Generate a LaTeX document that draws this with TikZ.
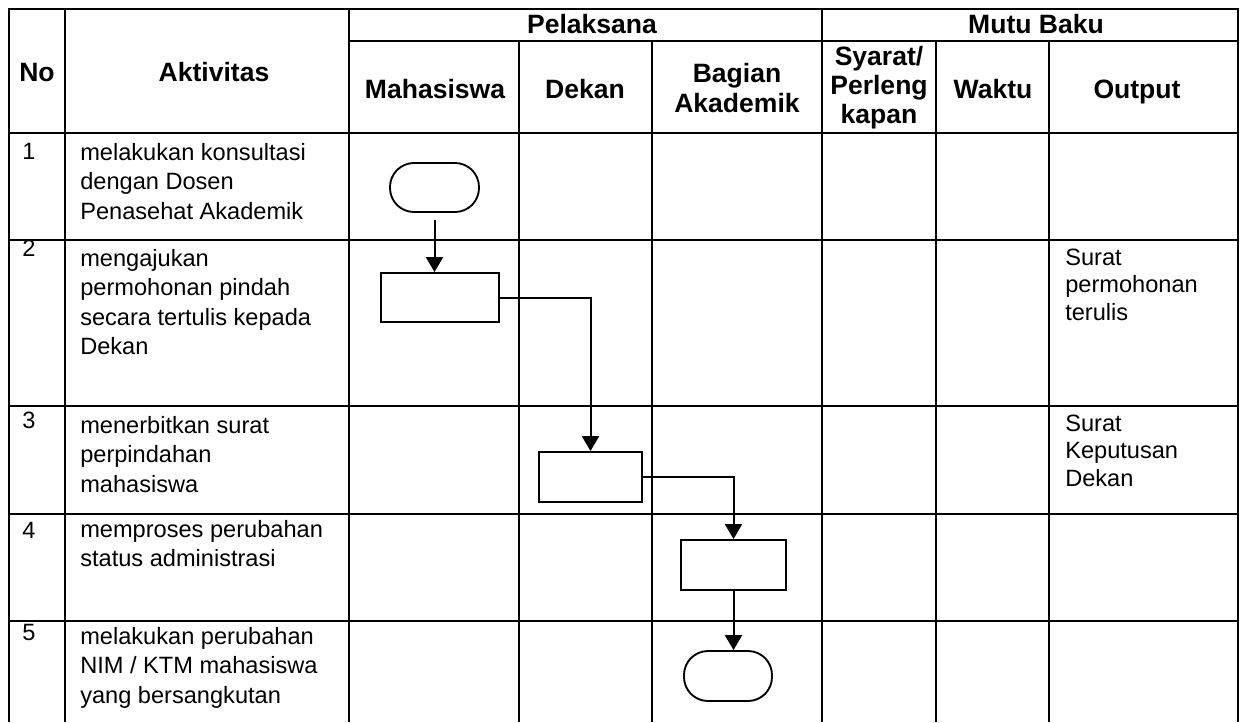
\documentclass[tikz,border=0pt]{standalone}
\usepackage{fontspec}
\setmainfont{Liberation Sans}
\usetikzlibrary{arrows.meta}
\begin{document}
\begin{tikzpicture}[x=0.75pt,y=-0.75pt,
  grid/.style={line width=1.8pt},
  shp/.style={draw, line width=1.4pt, inner sep=0pt},
  proc/.style={shp},
  term/.style={shp, rounded corners=18pt},
  arr/.style={line width=1.5pt, -{Triangle[width=12.75pt,length=11.25pt]}},
  hd/.style={font=\fontsize{19.9}{22.5}\selectfont\bfseries, inner sep=0pt},
  hdml/.style={hd, align=center, anchor=north},
  num/.style={font=\fontsize{17.7}{22.1}\selectfont, inner sep=0pt, anchor=base west},
  bd/.style={font=\fontsize{17.7}{22.1}\selectfont, inner sep=0pt, align=left, anchor=north west},
  outp/.style={font=\fontsize{17.7}{20.6}\selectfont, inner sep=0pt, align=left, anchor=north west}
]
\useasboundingbox (0,0) rectangle (1245,722);

% table grid
\draw[grid] (9,722) -- (9,9) -- (1238,9) -- (1238,722);
\draw[grid] (349,41) -- (1238,41);
\foreach \yy in {133,240,406,514,621} \draw[grid] (9,\yy) -- (1238,\yy);
\foreach \xx in {65,349,822} \draw[grid] (\xx,9) -- (\xx,722);
\foreach \xx in {519,652,936,1049} \draw[grid] (\xx,41) -- (\xx,722);

% header texts
\node[hd, anchor=base] (hNo) at (37,81) {No};
\node[hd, anchor=base] (hAkt) at (214,81) {Aktivitas};
\node[hd, anchor=base] (hPel) at (592,33) {Pelaksana};
\node[hd, anchor=base] (hMutu) at (1036,33) {Mutu Baku};
\node[hd, anchor=base] (hMah) at (435,98) {Mahasiswa};
\node[hd, anchor=base] (hDek) at (585,98) {Dekan};
\node[hdml] (hBag) at (737,61) {\strut Bagian\\Akademik};
\node[hdml, font=\fontsize{19.9}{21.75}\selectfont\bfseries] (hSya) at (879,44.7) {\strut Syarat/\\Perleng\\kapan};
\node[hd, anchor=base] (hWak) at (993,98) {Waktu};
\node[hd, anchor=base] (hOut) at (1137,98) {Output};

% numbers
\node[num] (n1) at (22,159) {1};
\node[num] (n2) at (22,256) {2};
\node[num] (n3) at (22,428) {3};
\node[num] (n4) at (22,538) {4};
\node[num] (n5) at (22,640) {5};

% activities
\node[bd] (a1) at (80,139.4) {\strut melakukan konsultasi\\dengan Dosen\\Penasehat Akademik};
\node[bd] (a2) at (80,245.4) {\strut mengajukan\\permohonan pindah\\secara tertulis kepada\\Dekan};
\node[bd] (a3) at (80,412.4) {\strut menerbitkan surat\\perpindahan\\mahasiswa};
\node[bd] (a4) at (80,516.4) {\strut memproses perubahan\\status administrasi};
\node[bd] (a5) at (80,623.4) {\strut melakukan perubahan\\NIM / KTM mahasiswa\\yang bersangkutan};

% outputs
\node[outp] (o2) at (1065,245.75) {\strut Surat\\permohonan\\terulis};
\node[outp] (o3) at (1065,411.75) {\strut Surat\\Keputusan\\Dekan};

% flow shapes
\node[term, minimum width=66.75pt, minimum height=36.75pt] (T1) at (434.5,187.5) {};
\node[proc, minimum width=88.5pt, minimum height=36.75pt] (P2) at (440,297.5) {};
\node[proc, minimum width=77.25pt, minimum height=37.5pt] (P3) at (590.5,477) {};
\node[proc, minimum width=78.75pt, minimum height=37.5pt] (P4) at (733.5,565) {};
\node[term, minimum width=66pt, minimum height=37.5pt] (T5) at (728,676) {};

% connectors
\draw[arr, shorten <=5.25pt] (T1.south) -- (T1.south |- P2.north);
\draw[arr] (P2.east) -| (P3.north);
\draw[arr] (P3.east) -| (P4.north);
\draw[arr] (P4.south) -- (P4.south |- T5.north);
\end{tikzpicture}
\end{document}
